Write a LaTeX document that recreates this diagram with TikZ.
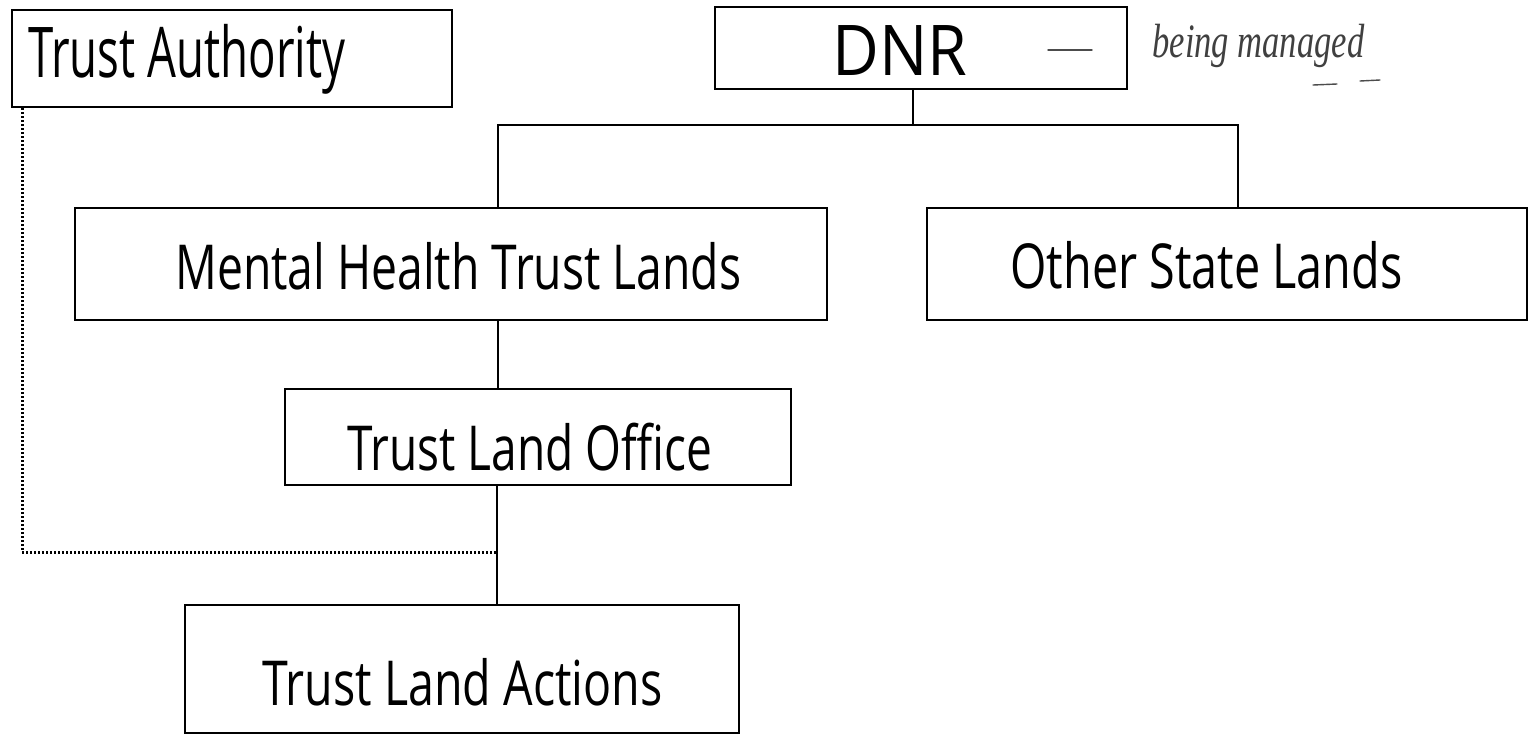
\documentclass[tikz,border=0pt]{standalone}
\usepackage{fontspec}
\usepackage{graphicx}
\setmainfont{Open Sans}
\newfontfamily\handfont{Liberation Serif}
\newcommand{\fitto}[2]{\resizebox{#1}{\height}{#2}}
\begin{document}
\begin{tikzpicture}[x=0.5pt,y=-0.5pt,
  box/.style={draw=black, line width=1.3pt, rectangle, inner sep=0pt},
  lbl/.style={anchor=base west, inner sep=0pt, font=\fontsize{31}{36}\selectfont},
  biglbl/.style={anchor=base west, inner sep=0pt, font=\fontsize{35}{40}\selectfont},
  conn/.style={draw=black, line width=1.1pt},
  dotline/.style={draw=black, line width=1.5pt, dash pattern=on 0.9pt off 1.1pt},
  handstroke/.style={draw=black!70, line width=0.7pt, line cap=round},
  handtext/.style={anchor=base west, inner sep=0pt, text=black!75, font=\handfont\itshape\fontsize{24}{26}\selectfont}]
\useasboundingbox[fill=white] (0,0) rectangle (1528,735);
% boxes
\node[box, minimum width=220pt, minimum height=48.5pt] (ta)  at (232,58.5) {};
\node[box, minimum width=206pt, minimum height=41pt]   (dnr) at (921,48) {};
\node[box, minimum width=376pt, minimum height=56pt]   (mh)  at (451,264) {};
\node[box, minimum width=300pt, minimum height=56pt]   (osl) at (1227,264) {};
\node[box, minimum width=253pt, minimum height=48pt]   (tlo) at (538,437) {};
\node[box, minimum width=277pt, minimum height=64pt]   (tla) at (462,669) {};
% labels
\node[biglbl] (talbl)  at (28,77)   {\fitto{158.5pt}{Trust Authority}};
\node[biglbl] (dnrlbl) at (832,75)  {\fitto{67.5pt}{DNR}};
\node[lbl]    (mhlbl)  at (175,289) {\fitto{283pt}{Mental Health Trust Lands}};
\node[lbl]    (osllbl) at (1010,288){\fitto{196pt}{Other State Lands}};
\node[lbl]    (tlolbl) at (347,470) {\fitto{182.5pt}{Trust Land Office}};
\node[lbl]    (tlalbl) at (262,705) {\fitto{200pt}{Trust Land Actions}};
% handwriting
\node[handtext] (hand) at (1152,57) {\fitto{106pt}{being managed}};
\draw[handstroke] (1048,50) -- (1092,50);
\draw[handstroke] (1313,85) -- (1337,84);
\draw[handstroke] (1360,81) -- (1380,80);
% connector coordinates
\coordinate (busM) at (913,125);
\coordinate (busL) at (498,125);
\coordinate (busR) at (1238,125);
\coordinate (s2) at (497,552);
\coordinate (dv) at (22,552);
% connectors
\draw[conn] (dnr.south -| busM) -- (busM);
\draw[conn] (mh.north -| busL) -- (busL) -- (busR) -- (osl.north -| busR);
\draw[conn] (mh.south -| busL) -- (tlo.north -| busL);
\draw[conn] (tlo.south -| s2) -- (tla.north -| s2);
\draw[dotline] (ta.south -| dv) -- (dv) -- (s2);
\end{tikzpicture}
\end{document}
